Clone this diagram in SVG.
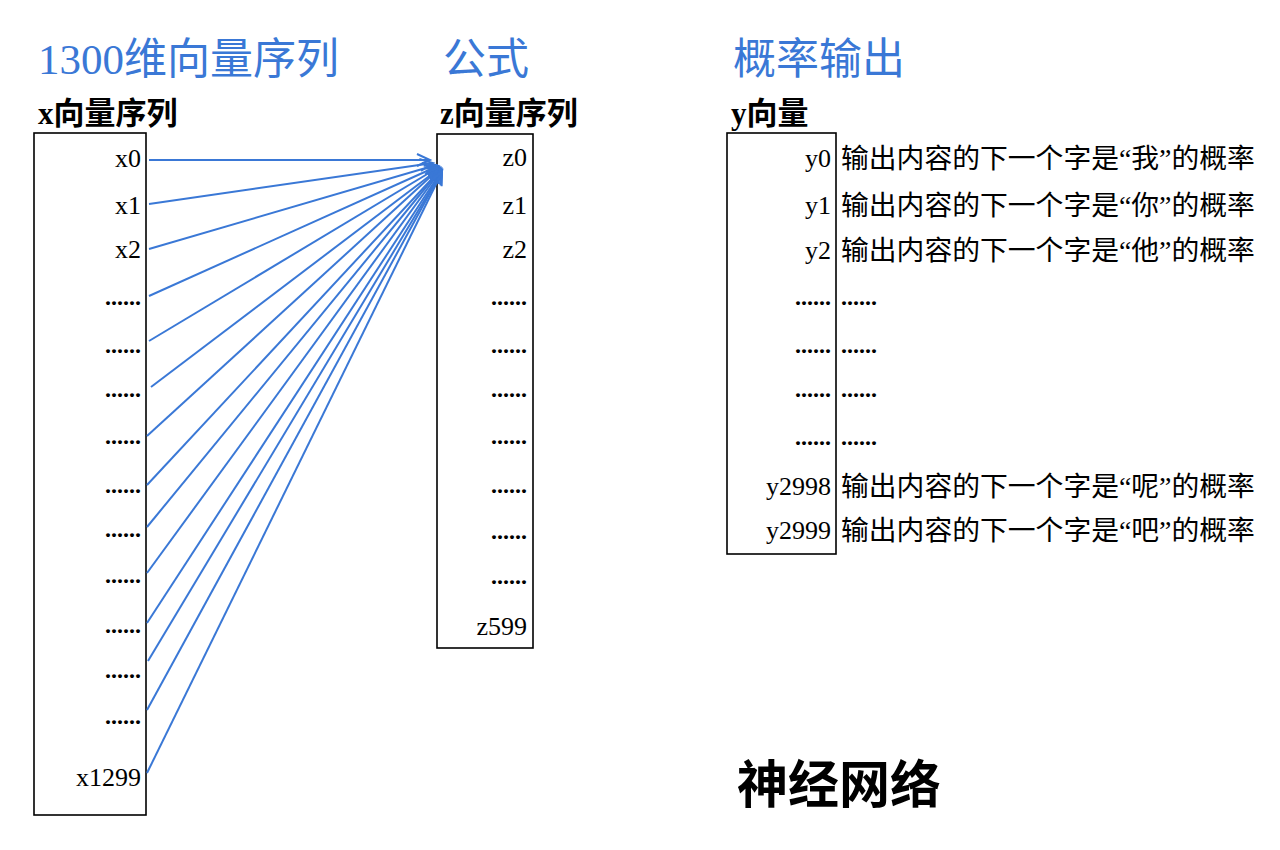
<svg xmlns="http://www.w3.org/2000/svg" width="1280" height="850" viewBox="0 0 1280 850">
<defs>
<style>
.title{font-family:"Liberation Serif","Noto Sans CJK SC",serif;font-size:43px;fill:#3A78D6;}
.sub{font-family:"Liberation Serif","Noto Sans CJK SC",serif;font-size:31px;font-weight:bold;fill:#000;}
.lbl{font-family:"Liberation Serif","Noto Sans CJK SC",serif;font-size:26px;fill:#000;text-anchor:end;}
.dot{font-family:"Liberation Serif",serif;font-size:24px;font-weight:bold;fill:#000;text-anchor:end;}
.desc{font-family:"Liberation Serif","Noto Sans CJK SC",serif;font-size:27.8px;fill:#000;}
.box{fill:none;stroke:#000;stroke-width:1.6;}
.arr{stroke:#3A78D6;stroke-width:2;fill:none;marker-end:url(#ah);}
</style>
<marker id="ah" markerUnits="userSpaceOnUse" markerWidth="20" markerHeight="20" refX="14" refY="7" orient="auto">
<path d="M1,1 L14,7 L1,13" fill="none" stroke="#3A78D6" stroke-width="2"/>
</marker>
</defs>
<rect width="1280" height="850" fill="#fff"/>
<g id="titles">
<text class="title" x="38" y="74">1300维向量序列</text>
<text class="title" x="443" y="74">公式</text>
<text class="title" x="733" y="74">概率输出</text>
</g>
<g id="x-seq">
<text class="sub" x="38" y="124">x向量序列</text>
<rect class="box" x="34" y="133" width="112" height="682"/>
<text class="lbl" x="141" y="167">x0</text>
<text class="lbl" x="141" y="214">x1</text>
<text class="lbl" x="141" y="258">x2</text>
<text class="dot" x="141" y="305">......</text>
<text class="dot" x="141" y="353">......</text>
<text class="dot" x="141" y="397">......</text>
<text class="dot" x="141" y="444">......</text>
<text class="dot" x="141" y="493">......</text>
<text class="dot" x="141" y="537">......</text>
<text class="dot" x="141" y="583">......</text>
<text class="dot" x="141" y="633">......</text>
<text class="dot" x="141" y="678">......</text>
<text class="dot" x="141" y="724">......</text>
<text class="lbl" x="141" y="786">x1299</text>
</g>
<g id="z-seq">
<text class="sub" x="440" y="124">z向量序列</text>
<rect class="box" x="437" y="134" width="96" height="514"/>
<text class="lbl" x="527" y="166">z0</text>
<text class="lbl" x="527" y="214">z1</text>
<text class="lbl" x="527" y="258">z2</text>
<text class="dot" x="527" y="305">......</text>
<text class="dot" x="527" y="353">......</text>
<text class="dot" x="527" y="397">......</text>
<text class="dot" x="527" y="444">......</text>
<text class="dot" x="527" y="493">......</text>
<text class="dot" x="527" y="539">......</text>
<text class="dot" x="527" y="584">......</text>
<text class="lbl" x="527" y="635">z599</text>
</g>
<g id="y-vec">
<text class="sub" x="731" y="124">y向量</text>
<rect class="box" x="727" y="133" width="109" height="421"/>
<text class="lbl" x="831" y="167">y0</text>
<text class="lbl" x="831" y="214">y1</text>
<text class="lbl" x="831" y="259">y2</text>
<text class="dot" x="831" y="305">......</text>
<text class="dot" x="831" y="353">......</text>
<text class="dot" x="831" y="397">......</text>
<text class="dot" x="831" y="445">......</text>
<text class="lbl" x="831" y="495">y2998</text>
<text class="lbl" x="831" y="539">y2999</text>
<text class="desc" x="841" y="168">输出内容的下一个字是“我”的概率</text>
<text class="desc" x="841" y="215">输出内容的下一个字是“你”的概率</text>
<text class="desc" x="841" y="260">输出内容的下一个字是“他”的概率</text>
<text class="dot" x="841" y="305" style="text-anchor:start">......</text>
<text class="dot" x="841" y="353" style="text-anchor:start">......</text>
<text class="dot" x="841" y="397" style="text-anchor:start">......</text>
<text class="dot" x="841" y="445" style="text-anchor:start">......</text>
<text class="desc" x="841" y="496">输出内容的下一个字是“呢”的概率</text>
<text class="desc" x="841" y="540">输出内容的下一个字是“吧”的概率</text>
</g>
<g id="connectors">
<line class="arr" x1="149" y1="160" x2="430" y2="160"/>
<line class="arr" x1="149" y1="204" x2="433" y2="163"/>
<line class="arr" x1="149" y1="249" x2="436" y2="165"/>
<line class="arr" x1="149" y1="296" x2="438" y2="166"/>
<line class="arr" x1="149" y1="341" x2="439" y2="167"/>
<line class="arr" x1="151" y1="387" x2="440" y2="168"/>
<line class="arr" x1="147" y1="436" x2="440" y2="168"/>
<line class="arr" x1="147" y1="485" x2="441" y2="169"/>
<line class="arr" x1="147" y1="527" x2="441" y2="169"/>
<line class="arr" x1="147" y1="573" x2="441" y2="170"/>
<line class="arr" x1="147" y1="623" x2="442" y2="170"/>
<line class="arr" x1="148" y1="661" x2="442" y2="171"/>
<line class="arr" x1="147" y1="710" x2="442" y2="171"/>
<line class="arr" x1="147" y1="773" x2="442" y2="172"/>
</g>
<g id="footer">
<text x="737" y="803" style="font-family:'Liberation Serif','Noto Sans CJK SC',serif;font-size:51px;font-weight:bold;fill:#000">神经网络</text>
</g>
</svg>
